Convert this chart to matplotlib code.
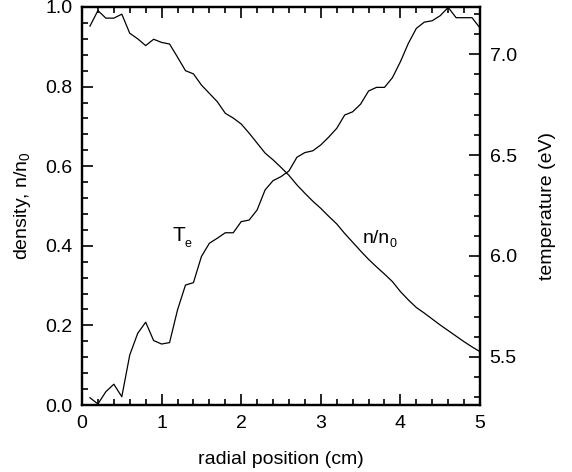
import matplotlib
matplotlib.use("Agg")
import matplotlib.pyplot as plt
from matplotlib.ticker import MultipleLocator

plt.rcParams['font.family'] = ['Liberation Sans', 'DejaVu Sans']
plt.rcParams['mathtext.fontset'] = 'custom'
plt.rcParams['mathtext.rm'] = 'Liberation Sans'

radius = [0.1, 0.2, 0.3, 0.4, 0.5, 0.6, 0.7, 0.8, 0.9, 1.0,
          1.1, 1.2, 1.3, 1.4, 1.5, 1.6, 1.7, 1.8, 1.9, 2.0,
          2.1, 2.2, 2.3, 2.4, 2.5, 2.6, 2.7, 2.8, 2.9, 3.0,
          3.1, 3.2, 3.3, 3.4, 3.5, 3.6, 3.7, 3.8, 3.9, 4.0,
          4.1, 4.2, 4.3, 4.4, 4.5, 4.6, 4.7, 4.8, 4.9, 5.0]

density = [0.952, 0.991, 0.972, 0.972, 0.982, 0.934, 0.920, 0.903, 0.919, 0.911,
           0.907, 0.874, 0.840, 0.832, 0.804, 0.783, 0.762, 0.733, 0.721, 0.706,
           0.683, 0.658, 0.633, 0.616, 0.597, 0.577, 0.553, 0.532, 0.512, 0.494,
           0.474, 0.455, 0.431, 0.409, 0.387, 0.366, 0.347, 0.329, 0.310, 0.285,
           0.264, 0.245, 0.231, 0.216, 0.201, 0.187, 0.173, 0.159, 0.146, 0.134]

temperature = [5.298, 5.267, 5.328, 5.365, 5.303, 5.510, 5.617, 5.672, 5.581, 5.564,
               5.571, 5.733, 5.856, 5.868, 5.997, 6.063, 6.088, 6.115, 6.115, 6.170,
               6.178, 6.228, 6.327, 6.373, 6.393, 6.421, 6.489, 6.512, 6.521, 6.550,
               6.589, 6.632, 6.698, 6.714, 6.752, 6.817, 6.835, 6.835, 6.883, 6.962,
               7.053, 7.127, 7.158, 7.165, 7.190, 7.231, 7.180, 7.180, 7.180, 7.129]

fig = plt.figure(figsize=(5.72, 4.72), dpi=100)
ax = fig.add_axes([82/572, 1-405/472, 398/572, 398/472])
ax2 = ax.twinx()

ax.plot(radius, density, color='black', lw=0.9)
ax2.plot(radius, temperature, color='black', lw=0.9)

ax.set_xlim(0, 5)
ax.set_ylim(0, 1.0)
ax2.set_ylim(5.262, 7.233)

ax.xaxis.set_major_locator(MultipleLocator(1))
ax.xaxis.set_minor_locator(MultipleLocator(0.2))
ax.yaxis.set_major_locator(MultipleLocator(0.2))
ax.yaxis.set_minor_locator(MultipleLocator(0.04))
ax2.yaxis.set_major_locator(MultipleLocator(0.5))
ax2.yaxis.set_minor_locator(MultipleLocator(0.1))

ax.xaxis.set_major_formatter(matplotlib.ticker.FormatStrFormatter('%d'))
ax.yaxis.set_major_formatter(matplotlib.ticker.FormatStrFormatter('%.1f'))
ax2.yaxis.set_major_formatter(matplotlib.ticker.FormatStrFormatter('%.1f'))

ax.tick_params(axis='x', which='both', direction='in', top=True, bottom=True,
               labelsize=14, pad=7, width=1.2)
ax.tick_params(axis='y', which='both', direction='in', left=True, right=False,
               labelsize=14, pad=7, width=1.2)
ax2.tick_params(axis='y', which='both', direction='in', right=True, left=False,
                labelsize=14, pad=7, width=1.2)
for a in (ax, ax2):
    a.tick_params(which='major', length=8)
    a.tick_params(which='minor', length=4.5)
    for s in a.spines.values():
        s.set_linewidth(1.6)

ax.set_xlabel('radial position (cm)', fontsize=14, labelpad=14)
ax.set_ylabel(r'density, n/n$_\mathregular{0}$', fontsize=14, labelpad=9)
ax2.set_ylabel('temperature (eV)', fontsize=14, labelpad=16)

ax.text(1.22, 0.425, 'T', fontsize=15, ha='center', va='center')
ax.text(1.29, 0.405, 'e', fontsize=9, ha='left', va='center')
ax.text(3.53, 0.418, 'n/n', fontsize=14, ha='left', va='center')
ax.text(3.865, 0.405, '0', fontsize=9, ha='left', va='center')

fig.savefig('out.png', dpi=100)
